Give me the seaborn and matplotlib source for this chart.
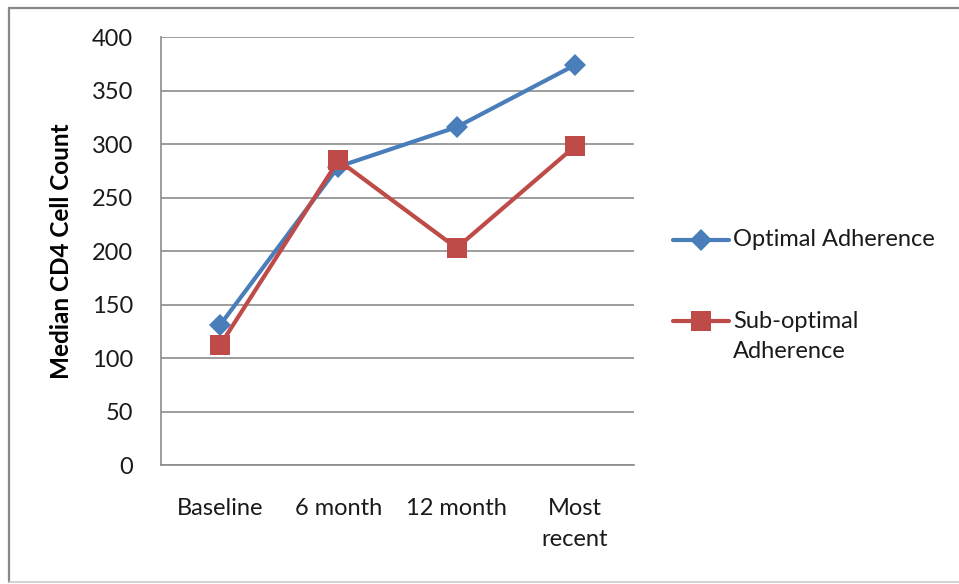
import matplotlib
matplotlib.use("Agg")
import matplotlib.pyplot as plt
from matplotlib.lines import Line2D
import seaborn as sns
import pandas as pd

# Median CD4 counts by visit
visits = ["Baseline", "6 month", "12 month", "Most\nrecent"]
optimal = [131, 279, 316, 374]
suboptimal = [112, 285, 203, 298]
series_names = ["Optimal Adherence", "Sub-optimal Adherence"]

sns.set_theme(style="white")
plt.rcParams["font.family"] = ["Lato", "DejaVu Sans"]

df = pd.DataFrame({
    "visit": visits * 2,
    "count": optimal + suboptimal,
    "group": [series_names[0]] * 4 + [series_names[1]] * 4,
})

BLUE = "#4A7EBB"
RED = "#BE4B48"
GRID = "#8C8C8C"
TEXT = "#1a1a1a"
FS = 17

W, H = 959, 584
fig = plt.figure(figsize=(W / 100, H / 100), dpi=100)
ax = fig.add_axes([161 / W, 1 - 465 / H, 473 / W, (465 - 37.3) / H])

sns.lineplot(data=df, x="visit", y="count", hue="group", style="group",
             palette=[BLUE, RED], markers=["D", "s"], dashes=False,
             linewidth=3.0, markersize=11, markeredgewidth=0,
             sort=False, legend=False, ax=ax)
# larger square marker for the second series
lines = ax.get_lines()
lines[1].set_markersize(14.5)

ax.set_xlim(-0.5, 3.5)
ax.set_ylim(0, 400)
ax.set_yticks(range(0, 401, 50))
ax.set_xticks(range(len(visits)))
ax.set_xticklabels(visits, linespacing=1.55)
ax.grid(axis="y", color=GRID, linewidth=1.2)
ax.grid(axis="x", visible=False)
ax.set_axisbelow(True)

for side in ["top", "right"]:
    ax.spines[side].set_visible(False)
for side in ["left", "bottom"]:
    ax.spines[side].set_color(GRID)
    ax.spines[side].set_linewidth(1.2)

ax.tick_params(axis="y", length=0, pad=20, labelsize=FS, labelcolor=TEXT)
ax.tick_params(axis="x", length=0, pad=24, labelsize=FS, labelcolor=TEXT)

ax.set_xlabel("")
ax.set_ylabel("Median CD4 Cell Count", fontsize=17.5, fontweight="bold", color="#000000")
ax.yaxis.set_label_coords(-0.185, 0.5)

# legend keys drawn beside the plot, one row per series
def fx(px):
    return px / W

def fy(py):
    return 1 - py / H

legend_rows = [
    (BLUE, "D", 11, 240, [series_names[0]]),
    (RED, "s", 14.5, 321, ["Sub-optimal", "Adherence"]),
]
for color, marker, ms, ypx, text_lines in legend_rows:
    fig.add_artist(Line2D([fx(673), fx(729)], [fy(ypx), fy(ypx)],
                          transform=fig.transFigure, color=color, lw=3.0))
    fig.add_artist(Line2D([fx(701)], [fy(ypx)], transform=fig.transFigure,
                          color=color, marker=marker, markersize=ms,
                          markeredgewidth=0, linestyle="none"))
    for i, t in enumerate(text_lines):
        fig.text(fx(733), fy(ypx + 31 * i), t, fontsize=FS, color=TEXT,
                 ha="left", va="center")

# chart frame
fig.add_artist(Line2D([fx(9), 1], [fy(8), fy(8)], transform=fig.transFigure,
                      color="#888888", lw=1.6))
fig.add_artist(Line2D([fx(9), fx(9)], [fy(8), fy(582)], transform=fig.transFigure,
                      color="#888888", lw=1.6))
fig.add_artist(Line2D([fx(9), 1], [fy(582), fy(582)], transform=fig.transFigure,
                      color="#CCCCCC", lw=1.2))

fig.savefig("out.png", dpi=100, facecolor="white")
